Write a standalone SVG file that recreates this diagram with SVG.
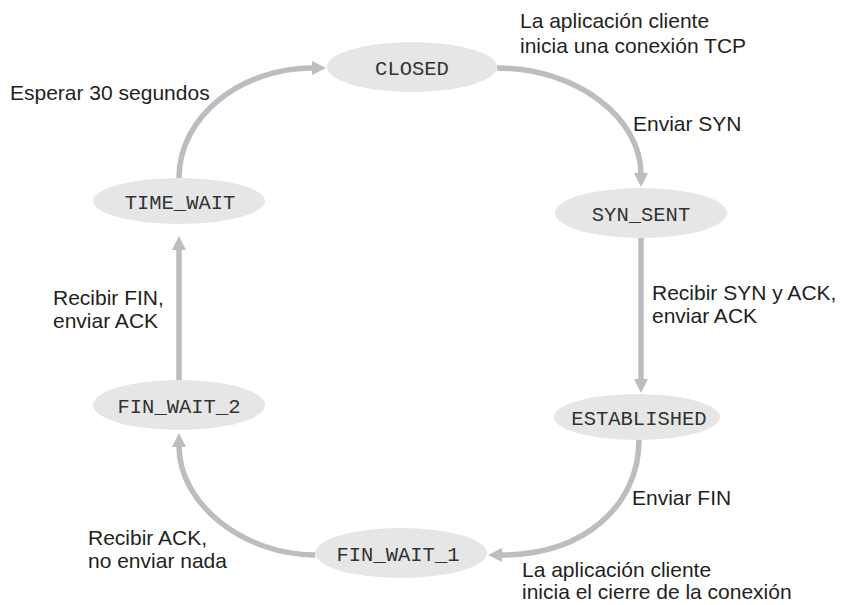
<svg xmlns="http://www.w3.org/2000/svg" width="841" height="605" viewBox="0 0 841 605">
<defs>
<style>
.st{fill:#e6e6e6;stroke:none}
.sl{font-family:"Liberation Mono","Courier New",monospace;font-size:20.5px;fill:#333;text-anchor:middle}
.lb{font-family:"Liberation Sans",Arial,sans-serif;font-size:21px;fill:#231f20}
.cn{fill:none;stroke:#bdbdc1;stroke-width:5.5}
</style>
<marker id="ah" viewBox="0 0 14 14" markerWidth="14" markerHeight="14" refX="1" refY="7" orient="auto" markerUnits="userSpaceOnUse">
<path d="M0,0 L14,7 L0,14 z" fill="#bdbdc1"/>
</marker>
</defs>
<rect width="841" height="605" fill="#fff"/>
<g id="connectors">
<path class="cn" d="M179,178 C179,117 240,68 313,68" marker-end="url(#ah)"/>
<path class="cn" d="M497,68 C577,68 641,118 641,174" marker-end="url(#ah)"/>
<path class="cn" d="M641,238 L641,380" marker-end="url(#ah)"/>
<path class="cn" d="M639,440 C639,505 585,555 501,555" marker-end="url(#ah)"/>
<path class="cn" d="M315,555 C245,555 179,505 179,446" marker-end="url(#ah)"/>
<path class="cn" d="M179,380 L179,249" marker-end="url(#ah)"/>
</g>
<g id="closed"><ellipse class="st" cx="412" cy="67" rx="85" ry="25"/><text class="sl" x="412" y="75">CLOSED</text></g>
<g id="syn_sent"><ellipse class="st" cx="641" cy="213" rx="86" ry="25"/><text class="sl" x="641" y="221">SYN_SENT</text></g>
<g id="established"><ellipse class="st" cx="637" cy="417" rx="83" ry="23"/><text class="sl" x="639" y="425">ESTABLISHED</text></g>
<g id="fin_wait_1"><ellipse class="st" cx="401" cy="553" rx="86" ry="25"/><text class="sl" x="398" y="561">FIN_WAIT_1</text></g>
<g id="fin_wait_2"><ellipse class="st" cx="179" cy="405" rx="86" ry="25"/><text class="sl" x="179" y="413">FIN_WAIT_2</text></g>
<g id="time_wait"><ellipse class="st" cx="179" cy="201" rx="86" ry="23"/><text class="sl" x="180" y="209">TIME_WAIT</text></g>
<g id="labels">
<text class="lb" x="520" y="28">La aplicación cliente</text>
<text class="lb" x="520" y="53">inicia una conexión TCP</text>
<text class="lb" x="10" y="100">Esperar 30 segundos</text>
<text class="lb" x="633" y="131">Enviar SYN</text>
<text class="lb" x="652" y="300">Recibir SYN y ACK,</text>
<text class="lb" x="652" y="323">enviar ACK</text>
<text class="lb" x="53" y="305">Recibir FIN,</text>
<text class="lb" x="53" y="328">enviar ACK</text>
<text class="lb" x="632" y="505">Enviar FIN</text>
<text class="lb" x="88" y="545">Recibir ACK,</text>
<text class="lb" x="88" y="568">no enviar nada</text>
<text class="lb" x="522" y="577">La aplicación cliente</text>
<text class="lb" x="522" y="599">inicia el cierre de la conexión</text>
</g>
</svg>
